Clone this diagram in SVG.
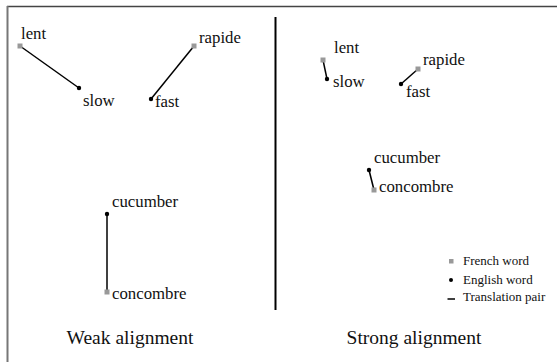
<svg xmlns="http://www.w3.org/2000/svg" width="557" height="362" viewBox="0 0 557 362">
<style>
text{font-family:"Liberation Serif","Times New Roman",serif;fill:#111}
.w{font-size:16.8px}
.t{font-size:19.5px}
.lg{font-size:13px}
.fr{fill:#999}
.en{fill:#000}
.pair{stroke:#000;stroke-width:1.5;fill:none}
</style>
<rect width="557" height="362" fill="#fff"/>
<g id="frame">
<line x1="7" y1="6.5" x2="557" y2="6.5" stroke="#444" stroke-width="1.5"/>
<line x1="7.5" y1="6" x2="7.5" y2="362" stroke="#777" stroke-width="2"/>
<line x1="275.5" y1="17" x2="275.5" y2="310" stroke="#000" stroke-width="2"/>
</g>
<g id="connectors">
<line class="pair" x1="20" y1="46" x2="79" y2="88"/>
<line class="pair" x1="194" y1="46" x2="151" y2="99"/>
<line class="pair" x1="107" y1="214" x2="107" y2="292"/>
<line class="pair" x1="323" y1="60" x2="327" y2="79"/>
<line class="pair" x1="418" y1="69" x2="401" y2="84"/>
<line class="pair" x1="369" y1="170" x2="374" y2="190"/>
</g>
<g id="weak-lent"><rect class="fr" x="17.5" y="43.5" width="5" height="5"/><text class="w" x="21" y="39">lent</text></g>
<g id="weak-slow"><circle class="en" cx="79" cy="88" r="2.2"/><text class="w" x="83" y="106">slow</text></g>
<g id="weak-rapide"><rect class="fr" x="191.5" y="43.5" width="5" height="5"/><text class="w" x="199" y="43">rapide</text></g>
<g id="weak-fast"><circle class="en" cx="151" cy="99" r="2.2"/><text class="w" x="155" y="107">fast</text></g>
<g id="weak-cucumber"><circle class="en" cx="107" cy="214" r="2.2"/><text class="w" x="112" y="207">cucumber</text></g>
<g id="weak-concombre"><rect class="fr" x="104.5" y="289.5" width="5" height="5"/><text class="w" x="112" y="299">concombre</text></g>
<g id="strong-lent"><rect class="fr" x="320.5" y="57.5" width="5" height="5"/><text class="w" x="334" y="53">lent</text></g>
<g id="strong-slow"><circle class="en" cx="327" cy="79" r="2.2"/><text class="w" x="333" y="87">slow</text></g>
<g id="strong-rapide"><rect class="fr" x="415.5" y="66.5" width="5" height="5"/><text class="w" x="423" y="65">rapide</text></g>
<g id="strong-fast"><circle class="en" cx="401" cy="84" r="2.2"/><text class="w" x="406" y="97">fast</text></g>
<g id="strong-cucumber"><circle class="en" cx="369" cy="170" r="2.2"/><text class="w" x="374" y="163">cucumber</text></g>
<g id="strong-concombre"><rect class="fr" x="371.5" y="187.5" width="5" height="5"/><text class="w" x="379" y="192">concombre</text></g>
<g id="legend">
<rect class="fr" x="449" y="259" width="4.5" height="4.5"/><text class="lg" x="463" y="265">French word</text>
<circle class="en" cx="451" cy="280" r="2"/><text class="lg" x="463" y="284">English word</text>
<line x1="447.5" y1="299" x2="455" y2="299" stroke="#000" stroke-width="1.5"/><text class="lg" x="463" y="301">Translation pair</text>
</g>
<g id="titles">
<text class="t" x="130" y="344" text-anchor="middle">Weak alignment</text>
<text class="t" x="414" y="344" text-anchor="middle">Strong alignment</text>
</g>
</svg>
